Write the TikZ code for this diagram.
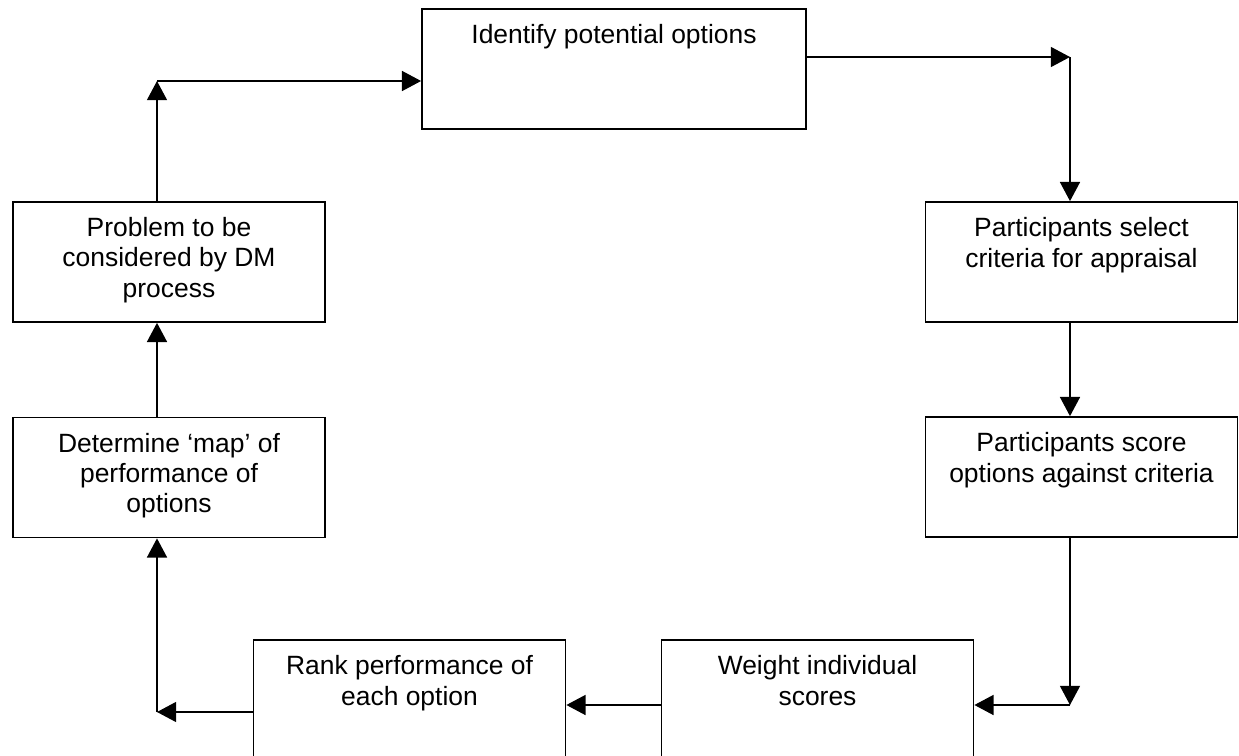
\documentclass[tikz,border=0pt]{standalone}
\usepackage{fontspec}
\setmainfont{Liberation Sans}
\usetikzlibrary{arrows.meta, positioning}

\begin{document}
\begin{tikzpicture}[x=0.025cm, y=-0.025cm,
    stepbox/.style={draw, line width=1.2pt, inner sep=0pt, align=center,
        minimum width=7.8cm, text height=0.875cm, text depth=2.125cm,
        font=\fontsize{18.8}{21.4}\selectfont},
    twoline/.style={text height=1.625cm, text depth=1.375cm},
    threeline/.style={text height=2.375cm, text depth=0.625cm},
    flow/.style={line width=1.2pt, -{Triangle[length=0.48cm, width=0.5cm]}}]
\clip (0,0) rectangle (1239,756);

% process steps
\node[stepbox, minimum width=9.6cm] (options) at (614,69) {Identify potential options};
\node[stepbox, twoline] (select) at (1081.5,262) {Participants select\\criteria for appraisal};
\node[stepbox, twoline] (score) at (1081.5,477) {Participants score\\options against criteria};
\node[stepbox, twoline] (weight) at (817.5,700) {Weight individual\\scores};
\node[stepbox, twoline] (rank) at (409.5,700) {Rank performance of\\each option};
\node[stepbox, threeline] (map) at (169,477.5) {Determine ‘map’ of\\performance of\\options};
\node[stepbox, threeline] (problem) at (169,262) {Problem to be\\considered by DM\\process};

% corners of the loop
\coordinate (c1) at (157,81);
\coordinate (c2) at (1070,57);
\coordinate (c3) at (1070,705);
\coordinate (c4) at (157,712);

\draw[flow] (problem.north -| c1) -- (c1);
\draw[flow] (c1) -- (c1 -| options.west);
\draw[flow] (options.east |- c2) -- (c2);
\draw[flow] (c2) -- (c2 |- select.north);
\draw[flow] (select.south -| c2) -- (score.north -| c2);
\draw[flow] (score.south -| c3) -- (c3);
\draw[flow] (c3) -- (c3 -| weight.east);
\draw[flow] (weight.west |- c3) -- (rank.east |- c3);
\draw[flow] (rank.west |- c4) -- (c4);
\draw[flow] (c4) -- (c4 |- map.south);
\draw[flow] (map.north -| c4) -- (problem.south -| c4);
\end{tikzpicture}
\end{document}
